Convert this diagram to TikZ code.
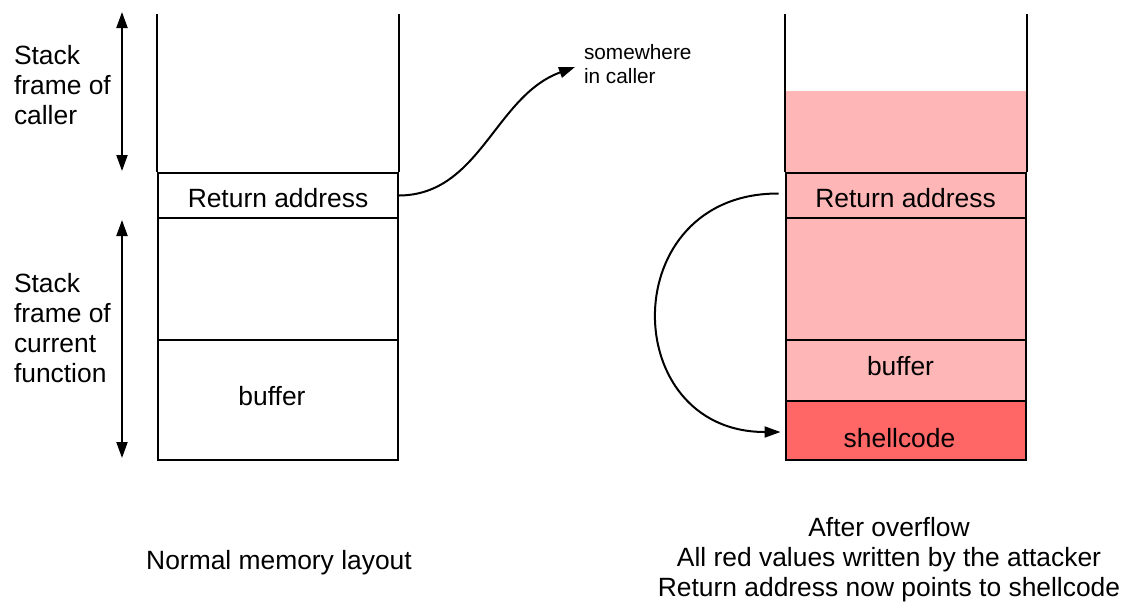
\documentclass[tikz,border=0pt]{standalone}
\usepackage{fontspec}
\setmainfont{Liberation Sans}
\usetikzlibrary{arrows.meta, positioning}
\definecolor{overflow}{HTML}{FFB6B6}
\definecolor{shellred}{HTML}{FF6666}

\begin{document}
\begin{tikzpicture}[
    x=0.5pt, y=-0.5pt,
    cell/.style={rectangle, draw, line width=1pt, minimum width=120pt, inner sep=0pt},
    note/.style={align=left, inner sep=0pt, font=\fontsize{13.2}{15}\selectfont},
    >={Triangle[length=8pt, width=5.5pt]},
    line width=1pt
]
\useasboundingbox (0,0) rectangle (1127,601);

% normal memory layout
\node[cell, minimum height=22.5pt] (lret) at (278,195.5) {};
\node[cell, minimum height=61pt] (lloc) at (278,279) {};
\node[cell, minimum height=60pt] (lbuf) at (278,400) {};
\draw (lret.north west) -- ++(0,-158);
\draw (lret.north east) -- ++(0,-158);
\node[note] (lrettext) at ([yshift=-1.5pt]lret.center) {Return address};
\node[note] (lbuftext) at ([xshift=-3pt, yshift=2pt]lbuf.center) {buffer};

\node[note, anchor=west] (caller) at (13,85) {Stack\\frame of\\caller};
\node[note, anchor=west] (current) at (13,328) {Stack\\frame of\\current\\function};
\coordinate (callertop) at (122,12);
\coordinate (callerbot) at (122,171);
\coordinate (curtop) at (122,220);
\coordinate (curbot) at (122,458);
\draw[<->] (callertop) -- (callerbot);
\draw[<->] (curtop) -- (curbot);

\node[note, anchor=west, font=\fontsize{10.4}{12}\selectfont] (somewhere) at (583,64) {somewhere\\in caller};
\draw[->] (lret.east) .. controls (480,195) and (495,96) .. ([xshift=-4pt, yshift=-1.5pt]somewhere.west);

% after overflow
\node[cell, draw=none, fill=overflow, minimum height=41pt] (rtop) at (905.5,132) {};
\node[cell, fill=overflow, minimum height=22.5pt] (rret) at (905.5,195.5) {};
\node[cell, fill=overflow, minimum height=61pt] (rloc) at (905.5,279) {};
\node[cell, fill=overflow, minimum height=30.5pt] (rbuf) at (905.5,370.5) {};
\node[cell, fill=shellred, minimum height=29.5pt] (rshell) at (905.5,430.5) {};
\draw (rret.north west) -- ++(0,-158);
\draw (rret.north east) -- ++(0,-158);
\node[note] (rrettext) at ([yshift=-1.5pt]rret.center) {Return address};
\node[note] (rbuftext) at ([xshift=-2.5pt, yshift=2pt]rbuf.center) {buffer};
\node[note] (shelltext) at ([xshift=-3pt, yshift=-4pt]rshell.center) {shellcode};

\draw[->] ([xshift=-3pt, yshift=1pt]rret.west) .. controls (615,193) and (617,432) .. ([xshift=-2pt, yshift=-0.75pt]rshell.west);

\node[note, align=center] (normal) at (279,563) {Normal memory layout};
\node[note, align=center] (after) at (889,560) {After overflow\\All red values written by the attacker\\Return address now points to shellcode};

\end{tikzpicture}
\end{document}
